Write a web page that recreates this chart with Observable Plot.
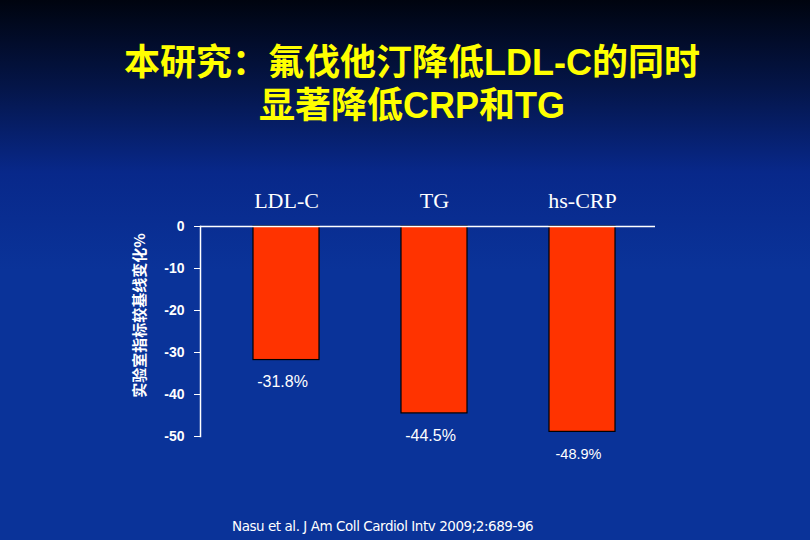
<!DOCTYPE html>
<html><head><meta charset="utf-8">
<script src="https://cdn.jsdelivr.net/npm/d3@7"></script>
<script src="https://cdn.jsdelivr.net/npm/@observablehq/plot@0.6"></script>
<style>
html,body{margin:0;padding:0;}
body{width:810px;height:540px;overflow:hidden;position:relative;
 background:linear-gradient(to bottom,#00040f 0%,#041548 16%,#08288a 32%,#0a3399 50%,#0a3399 100%);
 font-family:"Liberation Sans",Arial,sans-serif;}
#title{position:absolute;top:41px;left:7px;width:810px;text-align:center;color:#ffff00;
 font-family:"Liberation Sans","Noto Sans CJK SC",sans-serif;font-weight:bold;font-size:36px;line-height:43px;}
#chart{position:absolute;top:170px;left:0;}
#cap{position:absolute;top:518px;left:232px;color:#fff;font-size:13.5px;font-family:"DejaVu Sans",sans-serif;letter-spacing:-0.45px;}
</style></head><body>
<div id="title">本研究：氟伐他汀降低LDL-C的同时<br>显著降低CRP和TG</div>
<div id="chart"></div>
<div id="cap">Nasu et al. J Am Coll Cardiol Intv 2009;2:689-96</div>
<script>
const categories = ["LDL-C", "TG", "hs-CRP"];
const values = [-31.8, -44.5, -48.9];
const yTicks = [0, -10, -20, -30, -40, -50];
const yLabel = "实验室指标较基线变化%";
const labelSizes = [16, 16, 14.5];
const data = categories.map((c, i) => ({cat: c, v: values[i], fs: labelSizes[i]}));

const chart = Plot.plot({
  width: 810, height: 300,
  marginLeft: 200, marginRight: 155, marginTop: 56, marginBottom: 34,
  style: {background: "transparent", color: "#fff", overflow: "visible"},
  x: {domain: categories, paddingInner: 0.554, paddingOuter: 0.314, align: 0.57},
  y: {domain: [-50, 0]},
  marks: [
    Plot.barY(data, {x: "cat", y: "v", fill: "#ff3300", stroke: "#000", strokeWidth: 1.2}),
    Plot.ruleY([0], {stroke: "#fff", strokeWidth: 1.5}),
    Plot.frame({anchor: "left", stroke: "#fff", strokeWidth: 1.5}),
    Plot.axisY({ticks: yTicks, tickFormat: d => String(d), tickSize: 6, tickPadding: 10, fontSize: 14, fontWeight: "bold",
      fontFamily: "Liberation Sans, Arial, sans-serif", stroke: "#fff", fill: "#fff", label: null}),
    Plot.text([yLabel], {frameAnchor: "left", textAnchor: "middle", text: d => d, rotate: -90, dx: -60, dy: -16,
      fill: "#fff", fontSize: 15, fontWeight: "bold", fontFamily: "Noto Sans CJK SC, sans-serif"}),
    Plot.axisX({anchor: "top", tickSize: 0, tickPadding: 19, fontSize: 22,
      fontFamily: "Liberation Serif, Times New Roman, serif", fill: "#fff", label: null}),
    Plot.text(data, {x: "cat", y: "v", text: d => d.v.toFixed(1) + "%", dy: 22, dx: -4,
      fill: "#fff", fontSize: d => d.fs, fontFamily: "Liberation Sans, Arial, sans-serif"})
  ]
});
document.getElementById("chart").append(chart);
</script>
</body></html>
